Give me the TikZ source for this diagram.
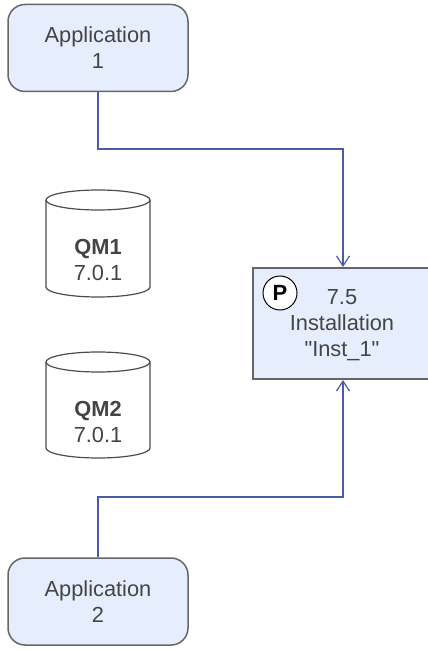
\documentclass[tikz,border=0pt]{standalone}
\usepackage{fontspec}
\newfontfamily\labelfont{Liberation Sans}
\usetikzlibrary{arrows.meta}
\definecolor{boxfill}{HTML}{E6EEFE}
\definecolor{boxline}{HTML}{666666}
\definecolor{wire}{HTML}{4A5CA6}
\definecolor{txt}{HTML}{444444}
\tikzset{
  appbox/.style={draw=boxline,line width=0.75pt,fill=boxfill,rounded corners=8.5pt,minimum width=90pt,minimum height=43.5pt},
  instbox/.style={draw=boxline,line width=1pt,fill=boxfill,minimum width=89pt,minimum height=55.5pt},
  qmline/.style={draw=black!70,line width=0.6pt},
  wireline/.style={draw=wire,line width=0.6pt,-{Straight Barb[length=5pt,width=6.5pt]}}
}
\begin{document}
\begin{tikzpicture}[x=0.5pt,y=-0.5pt,every node/.style={text=txt,align=center,font=\fontsize{10.9}{13}\labelfont}]
  \useasboundingbox (0,0) rectangle (427,651);
  \begin{scope}[every path/.style={qmline}]
    \path (46,200) -- (46,287) arc[start angle=180,end angle=360,x radius=26pt,y radius=5pt] -- (150,200);
    \path (98,200) ellipse [x radius=26pt,y radius=5pt];
    \path (46,362) -- (46,448) arc[start angle=180,end angle=360,x radius=26pt,y radius=5pt] -- (150,362);
    \path (98,362) ellipse [x radius=26pt,y radius=5pt];
  \end{scope}
  \begin{scope}
    \node[appbox] (appone) at (98,48) {Application\\1};
    \node[appbox] (apptwo) at (98,601.5) {Application\\2};
    \node[instbox] (inst) at (342,323.5) {};
    \node (insttext) at (342,325.5) {7.5\\Installation\\"Inst\_1"};
    \node[circle,draw=black,line width=0.5pt,fill=white,text=black,inner sep=0pt,minimum size=17pt,font=\fontsize{11}{13}\labelfont\bfseries] (pmark) at (280,293) {P};
    \node (qmone) at (98,260) {\textbf{QM1}\\7.0.1};
    \node (qmtwo) at (98,422) {\textbf{QM2}\\7.0.1};
  \end{scope}
  \coordinate (bendone) at (343,149);
  \coordinate (bendtwo) at (343,497);
  \begin{scope}[every path/.style={wireline}]
    \path (appone.south) |- (bendone) -- (bendone |- inst.north);
    \path (apptwo.north) |- (bendtwo) -- (bendtwo |- inst.south);
  \end{scope}
\end{tikzpicture}
\end{document}
